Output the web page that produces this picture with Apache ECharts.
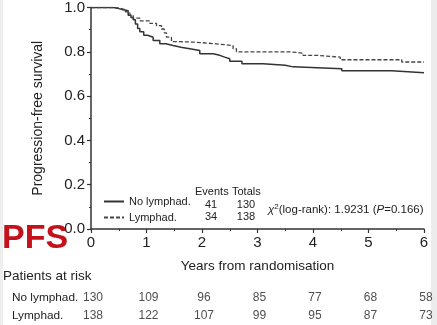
<!DOCTYPE html>
<html>
<head>
<meta charset="utf-8">
<script src="https://cdn.jsdelivr.net/npm/echarts@6/dist/echarts.min.js"></script>
<style>html,body{margin:0;padding:0;background:#fff;}#c{width:437px;height:325px;}</style>
</head>
<body>
<div id="c"></div>
<script>
// Kaplan-Meier step data [years, survival]
var noLymphad = [[0,1.0],[0.40,0.995],[0.50,0.99],[0.58,0.985],[0.67,0.965],[0.72,0.955],[0.76,0.945],[0.80,0.925],[0.84,0.905],[0.88,0.89],[0.95,0.875],[1.02,0.866],[1.12,0.851],[1.24,0.836],[1.35,0.828],[1.48,0.821],[1.62,0.814],[1.78,0.806],[1.96,0.791],[2.20,0.784],[2.32,0.776],[2.41,0.769],[2.50,0.757],[2.72,0.746],[3.10,0.739],[3.50,0.732],[3.64,0.724],[4.52,0.714],[5.42,0.705],[6.0,0.705]];
var lymphad = [[0,1.0],[0.43,0.995],[0.55,0.99],[0.62,0.98],[0.70,0.965],[0.76,0.952],[0.88,0.94],[1.06,0.928],[1.18,0.918],[1.27,0.903],[1.32,0.885],[1.36,0.866],[1.45,0.846],[1.60,0.843],[1.90,0.836],[2.26,0.828],[2.56,0.814],[2.62,0.80],[3.59,0.794],[3.82,0.784],[4.07,0.776],[4.49,0.764],[5.60,0.754],[6.0,0.754]];
var groups = ['No lymphad.', 'Lymphad.'];
var riskYears = [0,1,2,3,4,5,6];
var riskNoLymphad = [130,109,96,85,77,68,58];
var riskLymphad = [138,122,107,99,95,87,73];
var events = [41, 34];
var totals = [130, 138];
var chiText = '1.9231';
var pText = '0.166';

var FONT = 'Liberation Sans, Arial, Helvetica, sans-serif';
var TXT = '#222';

var riskData = [];
riskYears.forEach(function(y, i){
  riskData.push([y, groups[0], riskNoLymphad[i]]);
  riskData.push([y, groups[1], riskLymphad[i]]);
});

var chart = echarts.init(document.getElementById('c'), null, {renderer:'canvas'});
chart.setOption({
  animation: false,
  backgroundColor: '#fff',
  textStyle: {fontFamily: FONT},
  grid: [
    {left: 91, top: 5, width: 333, height: 224},
    {left: 91, top: 288, width: 333, height: 40}
  ],
  xAxis: [{
    gridIndex: 0, type: 'value', min: 0, max: 6, interval: 1,
    name: 'Years from randomisation', nameLocation: 'middle', nameGap: 30,
    nameTextStyle: {fontSize: 13.5, color: TXT, fontFamily: FONT},
    axisLine: {show: true, onZero: false, lineStyle: {color: '#333', width: 1.5}},
    axisTick: {show: true, length: 4, lineStyle: {color: '#333', width: 1.2}},
    minorTick: {show: true, splitNumber: 2, length: 2, lineStyle: {color: '#333', width: 1}},
    axisLabel: {fontSize: 15, color: TXT, margin: 6, fontFamily: FONT},
    splitLine: {show: false}
  }, {
    gridIndex: 1, type: 'value', min: 0, max: 6, show: false
  }],
  yAxis: [{
    gridIndex: 0, type: 'value', min: 0, max: 1, interval: 0.2,
    name: 'Progression-free survival', nameLocation: 'middle', nameGap: 46,
    nameTextStyle: {fontSize: 14, color: TXT, fontFamily: FONT},
    axisLine: {show: true, lineStyle: {color: '#333', width: 1.5}},
    axisTick: {show: true, length: 4, lineStyle: {color: '#333', width: 1.2}},
    minorTick: {show: true, splitNumber: 2, length: 2, lineStyle: {color: '#333', width: 1}},
    axisLabel: {fontSize: 15, color: TXT, margin: 6, fontFamily: FONT,
      formatter: function(v){ return v.toFixed(1); }},
    splitLine: {show: false}
  }, {
    gridIndex: 1, type: 'category', data: groups, inverse: true,
    axisLine: {show: false}, axisTick: {show: false}, splitLine: {show: false},
    axisLabel: {show: true, align: 'left', margin: 79, fontSize: 11.8, color: TXT, fontFamily: FONT}
  }],
  legend: {
    orient: 'vertical', left: 98, top: 191, itemWidth: 20, itemHeight: 8, itemGap: 5,
    itemStyle: {opacity: 0},
    textStyle: {fontSize: 11, color: TXT, fontFamily: FONT},
    data: groups
  },
  series: [{
    name: groups[0], type: 'line', step: 'end', data: noLymphad,
    xAxisIndex: 0, yAxisIndex: 0, symbol: 'none',
    lineStyle: {color: '#333', width: 1.5, type: 'solid'}, itemStyle: {color: '#333'}
  }, {
    name: groups[1], type: 'line', step: 'end', data: lymphad,
    xAxisIndex: 0, yAxisIndex: 0, symbol: 'none',
    lineStyle: {color: '#444', width: 1.3, type: [4, 2]}, itemStyle: {color: '#444'}
  }, {
    name: 'risk', type: 'scatter', xAxisIndex: 1, yAxisIndex: 1,
    data: riskData, symbolSize: 0, silent: true,
    label: {show: true, position: 'inside', offset: [2, 0], fontSize: 12, color: TXT, fontFamily: FONT,
      formatter: function(p){ return String(p.value[2]); }}
  }],
  graphic: [
    {type: 'rect', left: 431, top: 0, shape: {width: 6, height: 325}, style: {fill: '#ececec'}, silent: true},
    {type: 'rect', left: 0, top: 0, shape: {width: 3, height: 325}, style: {fill: '#eeeeee'}, silent: true},
    {type: 'text', left: 2, top: 222, style: {text: 'PFS', fill: '#c4121c', font: 'bold 34px ' + FONT}},
    {type: 'text', left: 3, top: 269, style: {text: 'Patients at risk', fill: TXT, font: '13.5px ' + FONT}},
    {type: 'text', left: 195, top: 186, style: {text: 'Events', fill: TXT, font: '11px ' + FONT}},
    {type: 'text', left: 232, top: 186, style: {text: 'Totals', fill: TXT, font: '11px ' + FONT}},
    {type: 'text', x: 211, y: 205, style: {text: String(events[0]), fill: TXT, font: '11px ' + FONT, align: 'center', verticalAlign: 'middle'}},
    {type: 'text', x: 211, y: 217, style: {text: String(events[1]), fill: TXT, font: '11px ' + FONT, align: 'center', verticalAlign: 'middle'}},
    {type: 'text', x: 246, y: 205, style: {text: String(totals[0]), fill: TXT, font: '11px ' + FONT, align: 'center', verticalAlign: 'middle'}},
    {type: 'text', x: 246, y: 217, style: {text: String(totals[1]), fill: TXT, font: '11px ' + FONT, align: 'center', verticalAlign: 'middle'}},
    {type: 'text', x: 268, y: 210, style: {
      text: '{g|χ}{s|2}{n|(log-rank): ' + chiText + ' (}{i|P}{n|=' + pText + ')}',
      verticalAlign: 'middle',
      rich: {
        g: {font: 'italic 11.5px ' + FONT, fill: TXT},
        s: {font: '8px ' + FONT, fill: TXT, verticalAlign: 'top', padding: [0,0,6,0]},
        n: {font: '11.5px ' + FONT, fill: TXT},
        i: {font: 'italic 11.5px ' + FONT, fill: TXT}
      }
    }}
  ]
});
</script>
</body>
</html>
